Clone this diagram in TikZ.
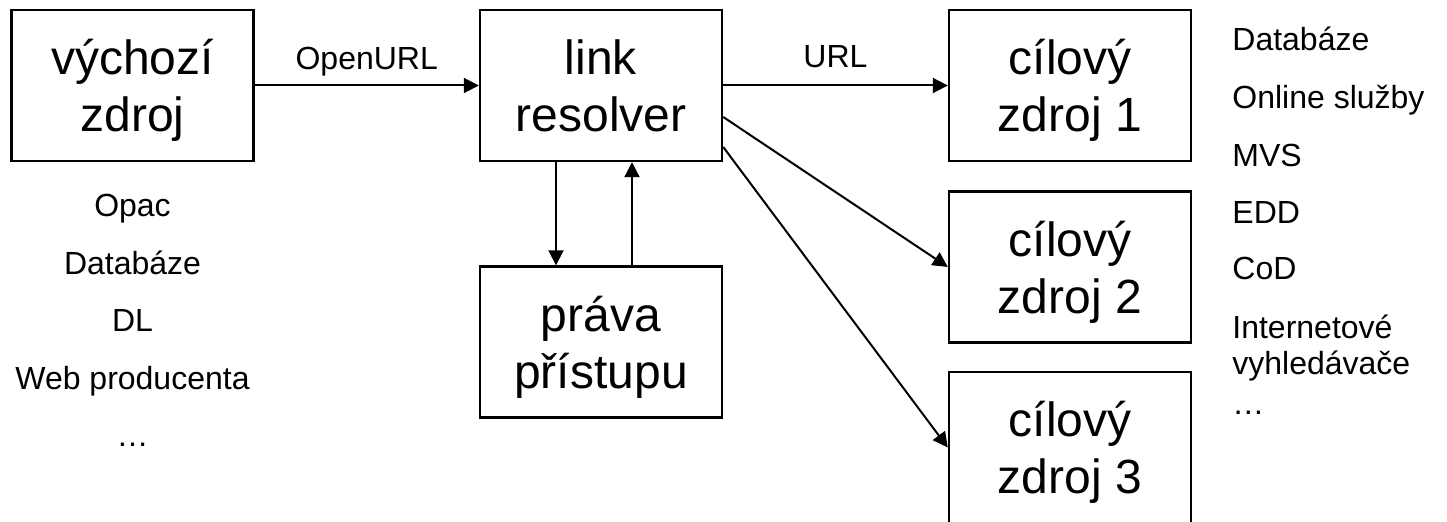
\documentclass[tikz,border=0pt]{standalone}
\usepackage{fontspec}
\setmainfont{Liberation Sans}
\usetikzlibrary{arrows.meta,positioning}

\begin{document}
\begin{tikzpicture}
  [x=0.5pt,y=-0.5pt,
   box/.style={draw,line width=1.2pt,minimum width=121pt,minimum height=75.5pt,
               align=center,text depth=0pt,font=\fontsize{24}{28.5}\selectfont},
   item/.style={inner sep=0pt,font=\fontsize{16}{18}\selectfont}]

  \useasboundingbox (0,0) rectangle (1447,522);

  \node[box] (src)  at (132.5,85.5)  {výchozí\\zdroj};
  \node[box] (res)  at (601,85.5)    {link\\resolver};
  \node[box] (acc)  at (601,342)     {práva\\přístupu};
  \node[box] (dst1) at (1070,85.5)   {cílový\\zdroj 1};
  \node[box] (dst2) at (1070,267)    {cílový\\zdroj 2};
  \node[box] (dst3) at (1070,447.5)  {cílový\\zdroj 3};

  \node[item,anchor=base] (s1) at (132.5,217) {Opac};
  \node[item,anchor=base] (s2) at (132.5,275) {Databáze};
  \node[item,anchor=base] (s3) at (132.5,332) {DL};
  \node[item,anchor=base] (s4) at (132.5,390) {Web producenta};
  \node[item,anchor=base] (s5) at (132.5,447) {\dots};

  \node[item,anchor=base west] (t1) at (1232,51)  {Databáze};
  \node[item,anchor=base west] (t2) at (1232,109) {Online služby};
  \node[item,anchor=base west] (t3) at (1232,167) {MVS};
  \node[item,anchor=base west] (t4) at (1232,224) {EDD};
  \node[item,anchor=base west] (t5) at (1232,280) {CoD};
  \node[item,anchor=west,align=left,text depth=0pt] (t6) at (1232,345) {Internetové\\vyhledávače};
  \node[item,anchor=base west] (t7) at (1232,415) {\dots};

  \path[->, >={Triangle[length=7.5pt,width=7.5pt]}, line width=1pt]
        (src) edge node[item,anchor=base,yshift=8pt] {OpenURL} (res)
        (res) edge node[item,anchor=base,yshift=9pt] {URL} (dst1)
        ([xshift=-22.5pt]res.south) edge ([xshift=-22.5pt]acc.north)
        ([xshift=15.5pt]acc.north) edge ([xshift=15.5pt]res.south)
        ([yshift=-15.75pt]res.east) edge (dst2.west)
        ([yshift=-30.75pt]res.east) edge (dst3.west);
\end{tikzpicture}
\end{document}
